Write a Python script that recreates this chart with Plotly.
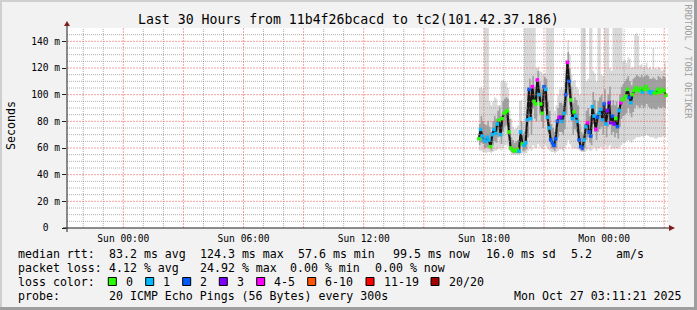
import plotly.graph_objects as go
import pandas as pd

# ---------------- data ----------------
start_time = "2025-10-26 17:45:00"
step = "5min"
x_range = ["2025-10-25 21:11:21", "2025-10-27 03:11:21"]

median_ms = [67,74,69,66,65,68,66,61,70,74,
             71,78,81,70,82,86,87,88,72,60,
             59,58,58,59,57.6,72,63,62,64,81,
             104,82,106,95,93,111,100,93,86,106,
             104,83,75,66,64,62,67,80,83,83,
             80,86,100,124.3,110,96,82,87,84,80,
             66,61,60,66,76,79,72,69,91,84,
             74,83,86,89,81,93,78,88,94,79,
             84,78,82,76,88,94,96,97,99,104,
             98,94,100,103,105,104,103,105,102,104,
             106,104,102,101,102,101,101,104,102,102,
             104,103,99.5]

loss_count = [0,1,1,1,1,1,1,0,1,1,
              1,1,0,1,0,0,0,0,0,0,
              0,0,0,0,1,1,0,1,1,1,
              2,1,4,0,0,4,1,0,0,2,
              1,1,1,2,2,2,2,2,4,3,
              1,1,2,4,2,0,1,0,1,1,
              2,2,2,1,1,4,2,2,1,1,
              4,2,1,1,1,2,1,3,3,3,
              2,3,0,2,1,4,0,0,0,0,
              2,1,0,0,0,0,0,0,1,0,
              0,0,1,1,1,0,0,0,0,0,
              0,0,0]

band_lo = [62,64,63,60,60,61,60,58,62,65,
           64,68,70,63,72,76,77,76,64,57,
           56,56,56,56,56,62,58,58,59,68,
           88,70,90,82,80,95,86,80,75,90,
           88,72,66,60,59,58,60,68,72,72,
           70,74,85,100,92,82,70,74,72,70,
           60,58,58,60,66,68,64,62,78,72,
           66,72,74,76,70,80,68,76,80,70,
           72,68,71,67,76,82,84,85,86,90,
           86,83,87,90,92,91,90,92,90,91,
           93,91,90,89,90,89,89,91,90,90,
           91,90,88]

band_hi = [78,84,80,78,77,80,76,72,80,84,
           82,88,92,84,95,97,98,97,82,68,
           66,64,65,66,66,80,70,72,76,92,
           112,95,114,106,104,118,110,104,98,113,
           112,95,88,78,75,72,78,90,94,94,
           92,98,110,132,120,106,94,98,96,92,
           78,72,70,78,88,90,84,82,102,96,
           86,95,98,100,93,104,90,100,106,92,
           96,92,95,90,100,106,108,110,112,114,
           110,107,112,113,115,114,113,115,113,114,
           115,114,112,112,113,112,111,114,113,112,
           114,113,110]

ping_min = [58,58,57,57,56,57,57,56,57,58,
            58,59,60,58,60,62,62,61,58,55,
            55,55,55,55,55,56,56,56,56,58,
            60,58,62,60,60,63,61,60,59,62,
            61,59,58,57,57,56,57,58,59,59,
            58,60,62,66,63,61,59,60,59,59,
            58,57,57,57,58,59,58,58,61,60,
            58,60,60,61,59,62,59,61,62,59,
            60,59,60,59,61,62,64,64,65,66,
            65,64,66,67,68,68,68,69,68,69,
            70,69,68,68,68,67,67,68,68,68,
            69,68,66]

ping_max = [105,106,104,160,160,160,95,92,95,98,
            97,92,90,110,111,110,109,105,88,82,
            76,74,75,77,95,96,80,160,160,160,
            160,160,160,160,120,121,118,117,115,116,
            160,160,160,160,160,88,92,100,104,106,
            104,110,125,141,130,115,110,111,106,104,
            100,160,160,160,110,112,160,160,118,116,
            110,160,160,115,114,160,160,160,120,118,
            160,160,160,160,160,160,125,126,124,128,
            127,120,121,145,146,144,122,123,121,122,
            124,120,121,119,135,120,119,121,120,118,
            119,124,115]

y_tick_vals = [0, 20, 40, 60, 80, 100, 120, 140]
y_tick_text = ["0\u00a0\u00a0", "20 m", "40 m", "60 m", "80 m", "100 m", "120 m", "140 m"]
y_minor_step = 5
x_tick_vals = ["2025-10-26 00:00", "2025-10-26 06:00", "2025-10-26 12:00",
               "2025-10-26 18:00", "2025-10-27 00:00"]
x_tick_text = ["Sun 00:00", "Sun 06:00", "Sun 12:00", "Sun 18:00", "Mon 00:00"]
x_grid_first = "2025-10-25 22:00"
x_grid_last = "2025-10-27 03:00"

title_text = "Last 30 Hours from 11b4f26bcacd to tc2(101.42.37.186)"
row_heads = ["median rtt:", "packet loss:", "loss color:", "probe:"]
rtt_items = ["83.2 ms avg", "124.3 ms max", "57.6 ms min", "99.5 ms now", "16.0 ms sd", "5.2", "am/s"]
loss_items = ["4.12 % avg", "24.92 % max", "0.00 % min", "0.00 % now"]
loss_labels = ["0", "1", "2", "3", "4-5", "6-10", "11-19", "20/20"]
loss_colors = ["#26ff00", "#00b8ff", "#0059ff", "#7e00ff", "#ff00ff", "#ff5500", "#ff0000", "#a00000"]
probe_items = ["20 ICMP Echo Pings (56 Bytes) every 300s", "Mon Oct 27 03:11:21 2025"]
watermark = "RRDTOOL / TOBI OETIKER"

# ---------------- layout geometry ----------------
W, H = 697, 310
L, R, T, B = 67, 29, 28, 82
PW, PH = W - L - R, H - T - B
MONO = "DejaVu Sans Mono"
MINOR_C = "rgba(143,143,143,0.7)"
MAJOR_C = "rgba(235,90,90,0.55)"


def px(x):
    return (x - L) / PW


def py(y):
    return (H - B - y) / PH


def loss_color(n):
    if n <= 3:
        return loss_colors[n]
    if n <= 5:
        return loss_colors[4]
    if n <= 10:
        return loss_colors[5]
    if n <= 19:
        return loss_colors[6]
    return loss_colors[7]


times = pd.date_range(start_time, periods=len(median_ms), freq=step)

fig = go.Figure()
fig.add_trace(go.Scatter(x=times, y=ping_min, mode="lines", line=dict(width=0, shape="hv"),
                         hoverinfo="skip", showlegend=False))
fig.add_trace(go.Scatter(x=times, y=ping_max, mode="lines", line=dict(width=0, shape="hv"),
                         fill="tonexty", fillcolor="rgba(0,0,0,0.15)", hoverinfo="skip", showlegend=False))
fig.add_trace(go.Scatter(x=times, y=band_lo, mode="lines", line=dict(width=0, shape="hv"),
                         hoverinfo="skip", showlegend=False))
fig.add_trace(go.Scatter(x=times, y=band_hi, mode="lines", line=dict(width=0, shape="hv"),
                         fill="tonexty", fillcolor="rgba(0,0,0,0.26)", hoverinfo="skip", showlegend=False))
fig.add_trace(go.Scatter(x=times, y=median_ms, mode="lines", line=dict(width=2.2, color="#151515"),
                         hoverinfo="skip", showlegend=False))
fig.add_trace(go.Scatter(x=times, y=median_ms, mode="markers",
                         marker=dict(symbol="square", size=3.6, color=[loss_color(n) for n in loss_count],
                                     line=dict(width=0)),
                         showlegend=False))

shapes = []
# grid (minor dotted, major solid-ish light red), drawn over the graph like rrdtool
hours = pd.date_range(x_grid_first, x_grid_last, freq="1h")
for h in hours:
    if h.hour % 3 != 0:
        shapes.append(dict(type="line", xref="x", yref="paper", x0=h, x1=h, y0=0, y1=1, layer="above",
                           line=dict(color=MINOR_C, width=1, dash="1px,1px")))
for v in range(y_minor_step, 150, y_minor_step):
    if v % 20 != 0:
        shapes.append(dict(type="line", xref="paper", yref="y", x0=0, x1=1, y0=v, y1=v, layer="above",
                           line=dict(color=MINOR_C, width=1, dash="1px,1px")))
for h in hours:
    if h.hour % 3 == 0:
        shapes.append(dict(type="line", xref="x", yref="paper", x0=h, x1=h, y0=0, y1=1, layer="above",
                           line=dict(color=MAJOR_C, width=1, dash="2px,1px")))
for v in y_tick_vals[1:]:
    shapes.append(dict(type="line", xref="paper", yref="y", x0=0, x1=1, y0=v, y1=v, layer="above",
                       line=dict(color=MAJOR_C, width=1, dash="2px,1px")))

# 3D frame
shapes.append(dict(type="rect", xref="paper", yref="paper", x0=px(0), x1=px(W), y0=py(0), y1=py(2),
                   fillcolor="#cfcfcf", line=dict(width=0), layer="above"))
shapes.append(dict(type="rect", xref="paper", yref="paper", x0=px(0), x1=px(2), y0=py(0), y1=py(H),
                   fillcolor="#cfcfcf", line=dict(width=0), layer="above"))
shapes.append(dict(type="rect", xref="paper", yref="paper", x0=px(0), x1=px(W), y0=py(H - 3), y1=py(H),
                   fillcolor="#9e9e9e", line=dict(width=0), layer="above"))
shapes.append(dict(type="rect", xref="paper", yref="paper", x0=px(W - 3), x1=px(W), y0=py(0), y1=py(H),
                   fillcolor="#9e9e9e", line=dict(width=0), layer="above"))
# axes lines
shapes.append(dict(type="line", xref="paper", yref="paper", x0=px(67), x1=px(67), y0=py(232), y1=py(25),
                   line=dict(color="#1f1f1f", width=1), layer="above"))
shapes.append(dict(type="line", xref="paper", yref="paper", x0=px(63), x1=px(670), y0=py(228), y1=py(228),
                   line=dict(color="#1f1f1f", width=1), layer="above"))
# arrows
shapes.append(dict(type="path", xref="paper", yref="paper",
                   path=f"M {px(64)} {py(26)} L {px(70)} {py(26)} L {px(67)} {py(21)} Z",
                   fillcolor="#801f1f", line=dict(width=0), layer="above"))
shapes.append(dict(type="path", xref="paper", yref="paper",
                   path=f"M {px(669)} {py(225)} L {px(669)} {py(231)} L {px(675)} {py(228)} Z",
                   fillcolor="#801f1f", line=dict(width=0), layer="above"))

annotations = []
annotations.append(dict(text=title_text, x=px(348), y=py(19.5), xref="paper", yref="paper",
                        showarrow=False, xanchor="center", yanchor="middle",
                        font=dict(family=MONO, size=13.2, color="#000")))
annotations.append(dict(text="Seconds", x=px(10.5), y=py(125.5), xref="paper", yref="paper",
                        showarrow=False, textangle=-90, xanchor="center", yanchor="middle",
                        font=dict(family=MONO, size=11.6, color="#000")))
annotations.append(dict(text=watermark, x=px(687.5), y=py(62), xref="paper", yref="paper",
                        showarrow=False, textangle=90, xanchor="center", yanchor="middle",
                        font=dict(family=MONO, size=8.6, color="#a0a0a0")))

row_y = [254, 268, 282, 296]
LEG = dict(family=MONO, size=11.6, color="#000")


def add_text(txt, x, y):
    annotations.append(dict(text=txt, x=px(x), y=py(y), xref="paper", yref="paper", showarrow=False,
                            xanchor="left", yanchor="middle", font=LEG))


for head, yy in zip(row_heads, row_y):
    add_text(head, 16, yy)
for txt, xx in zip(rtt_items, [107.3, 198, 296, 391, 484, 569, 614]):
    add_text(txt, xx, row_y[0])
for txt, xx in zip(loss_items, [107.3, 198, 287.5, 372.7]):
    add_text(txt, xx, row_y[1])
box_x = [108.3, 145.7, 182.7, 219.3, 256.7, 307.7, 366, 431]
for lab, col, bx in zip(loss_labels, loss_colors, box_x):
    shapes.append(dict(type="rect", xref="paper", yref="paper", x0=px(bx), x1=px(bx + 8),
                       y0=py(row_y[2] - 4.5), y1=py(row_y[2] + 3.5), fillcolor=col,
                       line=dict(color="#000", width=1), layer="above"))
    add_text(lab, bx + 15.5, row_y[2])
add_text(probe_items[0], 107.3, row_y[3])
add_text(probe_items[1], 512, row_y[3])

fig.update_layout(
    width=W, height=H,
    margin=dict(l=L, r=R, t=T, b=B, pad=0),
    paper_bgcolor="#f2f2f2", plot_bgcolor="#ffffff",
    showlegend=False,
    shapes=shapes, annotations=annotations,
    xaxis=dict(type="date", range=x_range, tickmode="array", tickvals=x_tick_vals, ticktext=x_tick_text,
               showgrid=False, ticks="", showline=False, zeroline=False,
               tickfont=dict(family=MONO, size=9.6, color="#000"), ticklabelstandoff=3),
    yaxis=dict(range=[0, 150], tickmode="array", tickvals=y_tick_vals, ticktext=y_tick_text,
               showgrid=False, ticks="outside", ticklen=4, tickcolor="#1f1f1f", tickwidth=1,
               showline=False, zeroline=False,
               tickfont=dict(family=MONO, size=9.6, color="#000")),
)

fig.write_html("out.html")
